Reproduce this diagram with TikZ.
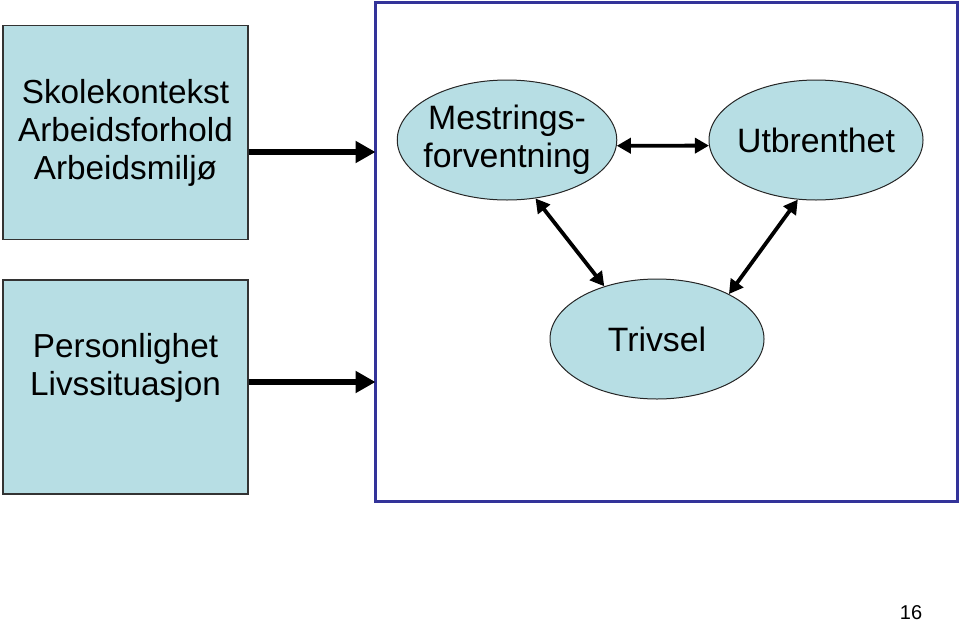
\documentclass[tikz,border=0pt]{standalone}
\usepackage{fontspec}
\setmainfont{Liberation Sans}
\usepackage{xcolor}
\usepackage{tikz}
\usetikzlibrary{positioning,calc,shapes.geometric,arrows.meta}
\definecolor{boxfill}{RGB}{183,222,228}
\definecolor{framecol}{RGB}{51,51,153}
\tikzset{
  factor/.style   = {draw=black!80, fill=boxfill, line width=1.2pt, minimum width=245pt, minimum height=214pt, inner sep=0pt},
  facttxt/.style  = {font=\fontsize{33.3}{38}\selectfont, align=center, inner sep=0pt},
  outcome/.style  = {ellipse, draw=black!85, fill=boxfill, line width=1pt, minimum width=214pt, minimum height=120pt, inner xsep=-6pt, inner ysep=0pt, font=\fontsize{33.8}{38.5}\selectfont, align=center},
  frame/.style    = {draw=framecol, line width=3pt, minimum width=582pt, minimum height=499pt, inner sep=0pt},
  flow/.style     = {-{Triangle[length=20pt,width=21pt]}, line width=5.5pt},
  link/.style     = {{Triangle[length=14pt,width=15pt]}-{Triangle[length=14pt,width=15pt]}, line width=3.8pt},
  pageno/.style   = {font=\fontsize{20}{24}\selectfont, inner sep=0pt},
}
\begin{document}
\begin{tikzpicture}[x=1pt,y=-1pt]
  \useasboundingbox (0,0) rectangle (960,624);

  % factors on the left
  \node[factor] (skole) at (125.5,132.5) {};
  \node[facttxt] (skoletxt) at (125.5,133) {Skolekontekst\\Arbeidsforhold\\Arbeidsmiljø};
  \node[factor] (pers) at (125.5,387) {};
  \node[facttxt] (perstxt) at (125.5,368) {Personlighet\\Livssituasjon};

  % outcome frame
  \node[frame] (ramme) at (666,251.5) {};
  \node[outcome] (mest) at (507,140) {Mestrings-\\forventning};
  \node[outcome] (utb) at (816,140) {Utbrenthet};
  \node[outcome] (triv) at (657,339) {Trivsel};

  \draw[flow] ([yshift=-19.5pt]skole.east) -- ([yshift=-19.5pt,xshift=2pt]skole.east -| ramme.west);
  \draw[flow] ([yshift=5pt]pers.east) -- ([yshift=5pt,xshift=2pt]pers.east -| ramme.west);

  \draw[link] (mest.-3) -- (utb.183);
  \draw[link] (mest.-64) -- (triv.135);
  \draw[link] (utb.-107) -- (triv.32);

  \node[pageno] (side) at (911,613) {16};
\end{tikzpicture}
\end{document}
